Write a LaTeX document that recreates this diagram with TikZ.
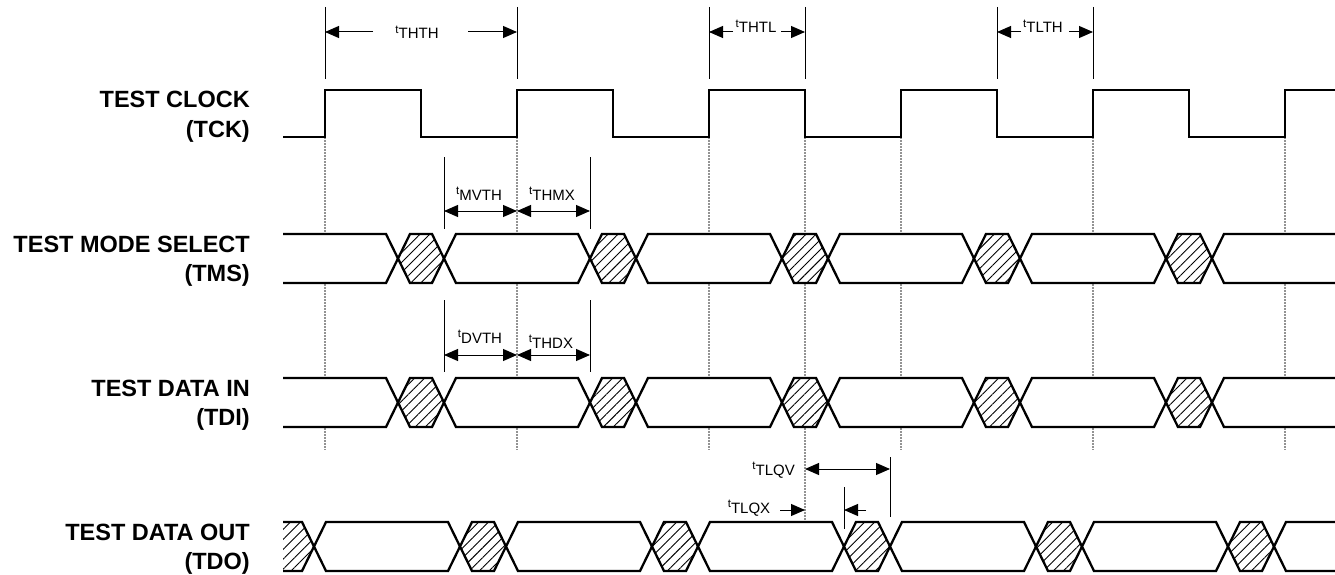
\documentclass[tikz,border=0pt]{standalone}
\usepackage{fontspec}
\setmainfont{Liberation Sans}
\usetikzlibrary{positioning,calc,arrows.meta,patterns.meta}
\tikzset{sig/.style={draw, line width=2.3pt, line join=miter, miter limit=2}}
\tikzset{busx/.style={sig, fill=white}}
\tikzset{hatchx/.style={sig, preaction={fill=white}, pattern={Lines[angle=45,distance=7pt,line width=0.9pt]}}}
\tikzset{guide/.style={draw=gray!85, line width=1.1pt, dash pattern=on 1.5pt off 1.5pt}}
\tikzset{dim/.style={draw, line width=1pt}}
\tikzset{arr/.style={draw, line width=1pt, -{Triangle[length=14pt,width=12pt]}}}
\tikzset{darr/.style={draw, line width=1pt, {Triangle[length=14pt,width=12pt]}-{Triangle[length=14pt,width=12pt]}}}
\tikzset{siglabel/.style={font=\fontsize{23.5}{29}\selectfont\bfseries, align=right, anchor=base east, inner sep=0pt}}
\tikzset{tlabel/.style={font=\fontsize{15}{15}\selectfont, inner sep=0pt, anchor=base}}
\newcommand{\tname}[1]{\raisebox{5.5pt}{\fontsize{11.5}{11.5}\selectfont t}#1}
% one bus: top, bottom, centres of the hatched changes
\newcommand{\databus}[3]{%
  \begin{scope}
    \clip (283,0) rectangle (1335,575);
    \foreach \c [remember=\c as \p (initially -200)] in {#3} {
      \draw[busx] (\p+23,{(#1+#2)/2}) -- (\p+35,#1) -- (\c-35,#1) -- (\c-23,{(#1+#2)/2})
        -- (\c-35,#2) -- (\p+35,#2) -- cycle;
      \draw[hatchx] (\c-23,{(#1+#2)/2}) -- (\c-11,#1) -- (\c+11,#1) -- (\c+23,{(#1+#2)/2})
        -- (\c+11,#2) -- (\c-11,#2) -- cycle;
    }
  \end{scope}}

\begin{document}
\begin{tikzpicture}[x=1pt, y=-1pt]
  \useasboundingbox (0,0) rectangle (1335,575);
  \foreach \x [count=\i] in {325,517,709,901,1093,1285} \coordinate (rise\i) at (\x,137);
  \foreach \x [count=\i] in {421,613,805,997,1189} \coordinate (fall\i) at (\x,137);
%
  % signal names (anchor on the last line)
  \node[siglabel] (tck) at (250,137) {TEST CLOCK\\(TCK)};
  \node[siglabel] (tms) at (250,281) {TEST MODE SELECT\\(TMS)};
  \node[siglabel] (tdi) at (250,425) {TEST DATA IN\\(TDI)};
  \node[siglabel] (tdo) at (250,569) {TEST DATA OUT\\(TDO)};
%
  % dotted edge guides
  \foreach \i in {1,...,6} \draw[guide] (rise\i) -- (rise\i |- 0,450);
  \draw[guide] (fall3) -- (fall3 |- 0,520);
%
  % clock
  \draw[sig] (283,137) \foreach \r in {325,517,709,901,1093} { -- (\r,137) -- (\r,90) -- (\r+96,90) -- (\r+96,137) }
    -- (rise6) -- (1285,90) -- (1335,90);
%
  % buses
  \databus{234}{283}{421,613,805,997,1189,1500}
  \databus{378}{427}{421,613,805,997,1189,1500}
  \databus{522}{571}{291,483,675,867,1059,1251,1500}
%
  % clock timings
  \foreach \e in {rise1,rise2,rise3,fall3,fall4,rise5} \draw[dim] (\e |- 0,7) -- (\e |- 0,79);
  \node[tlabel] (thth) at (417,39) {\tname{THTH}};
  \draw[arr] (373,32) -- (rise1 |- 0,32);
  \draw[arr] (468,32) -- (rise2 |- 0,32);
  \node[tlabel] (thtl) at (756,33) {\tname{THTL}};
  \draw[arr] (733,32) -- (rise3 |- 0,32);
  \draw[arr] (781,32) -- (fall3 |- 0,32);
  \node[tlabel] (tlth) at (1043,33) {\tname{TLTH}};
  \draw[arr] (1021,32) -- (fall4 |- 0,32);
  \draw[arr] (1069,32) -- (rise5 |- 0,32);
%
  % setup / hold
  \foreach \a in {444,590} {
    \draw[dim] (\a,157) -- (\a,229);
    \draw[dim] (\a,300) -- (\a,372);
  }
  \node[tlabel] (tmvth) at (479,200) {\tname{MVTH}};
  \node[tlabel] (tthmx) at (552,200) {\tname{THMX}};
  \draw[darr] (444,211) -- (rise2 |- 0,211);
  \draw[darr] (rise2 |- 0,211) -- (590,211);
  \node[tlabel] (tdvth) at (480,343) {\tname{DVTH}};
  \node[tlabel] (tthdx) at (551,348) {\tname{THDX}};
  \draw[darr] (444,355) -- (rise2 |- 0,355);
  \draw[darr] (rise2 |- 0,355) -- (590,355);
%
  % output delay
  \draw[dim] (890,457) -- (890,517);
  \draw[dim] (844,487) -- (844,529);
  \node[tlabel, anchor=base east] (ttlqv) at (795,475) {\tname{TLQV}};
  \draw[darr] (fall3 |- 0,469) -- (890,469);
  \node[tlabel] (ttlqx) at (749,513) {\tname{TLQX}};
  \draw[arr] (780,510) -- (fall3 |- 0,510);
  \draw[arr] (866,510) -- (844,510);
\end{tikzpicture}
\end{document}
